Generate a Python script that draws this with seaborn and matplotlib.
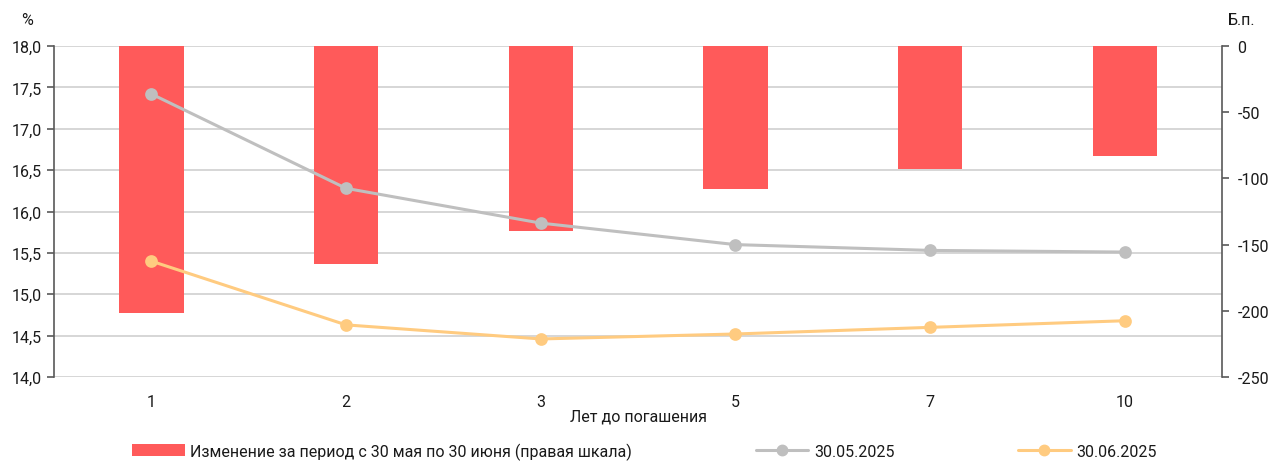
import numpy as np
import pandas as pd
import matplotlib
matplotlib.use("Agg")
import matplotlib.pyplot as plt
from matplotlib.ticker import FuncFormatter, MultipleLocator
from matplotlib.lines import Line2D
from matplotlib.patches import Patch
import seaborn as sns

# Yield curve data (maturity in years)
maturities = ["1", "2", "3", "5", "7", "10"]
yield_may = [17.42, 16.28, 15.86, 15.60, 15.53, 15.51]   # 30.05.2025, %
yield_jun = [15.40, 14.63, 14.46, 14.52, 14.60, 14.68]   # 30.06.2025, %
change_bp = [-202, -165, -140, -108, -93, -83]           # change, b.p.

label_change = "Изменение за период с 30 мая по 30 июня (правая шкала)"
label_may = "30.05.2025"
label_jun = "30.06.2025"

RED = "#FF5A5A"
GRAY = "#BFBFBF"
ORANGE = "#FFCB80"
SPINE = "#595959"
TEXT = "#1A1A1A"
FS = 11.5

sns.set_theme(style="white")
plt.rcParams["font.family"] = ["Liberation Sans Narrow", "Roboto", "DejaVu Sans"]
plt.rcParams["text.color"] = TEXT

fig = plt.figure(figsize=(12.81, 4.64), dpi=100)
ax = fig.add_axes([0.0422, 0.1853, 0.9118, 0.7134])
ax2 = ax.twinx()

df = pd.DataFrame({"m": maturities, "may": yield_may, "jun": yield_jun, "chg": change_bp})

# bars on the right scale
sns.barplot(data=df, x="m", y="chg", order=maturities, color=RED, saturation=1,
            width=0.33, ax=ax2, zorder=2)
for p in ax2.patches:
    p.set_edgecolor("none")

# lines on the left scale
sns.pointplot(data=df, x="m", y="may", order=maturities, color=GRAY,
              markers="o", markersize=7.5, linewidth=2.2, ax=ax)
sns.pointplot(data=df, x="m", y="jun", order=maturities, color=ORANGE,
              markers="o", markersize=7.5, linewidth=2.2, ax=ax)

ax.set_zorder(ax2.get_zorder() + 1)
ax.patch.set_visible(False)

pct_lo, pct_hi, pct_step = 14.0, 18.0, 0.5
bp_lo, bp_hi = -250, 0
ax.set_xlim(-0.5, 5.5)
ax.set_ylim(pct_lo, pct_hi)
ax2.set_ylim(bp_lo, bp_hi)
ax.yaxis.set_major_locator(MultipleLocator(pct_step))
ax2.yaxis.set_major_locator(MultipleLocator(50))
ax.yaxis.set_major_formatter(FuncFormatter(lambda v, _: f"{v:.1f}".replace(".", ",")))
ax2.yaxis.set_major_formatter(FuncFormatter(lambda v, _: f"{int(round(v))}"))

# horizontal grid follows the left (%) ticks, drawn on the lower axes behind the bars
grid_step_bp = (bp_hi - bp_lo) * pct_step / (pct_hi - pct_lo)
ax2.yaxis.set_minor_locator(MultipleLocator(grid_step_bp))
ax2.yaxis.remove_overlapping_locs = False
ax2.grid(False)
ax2.grid(axis="y", which="minor", color="#D0D0D0", linewidth=1.2)
ax2.tick_params(axis="y", which="minor", length=0)
ax2.set_axisbelow(True)
ax.grid(False)

for a in (ax, ax2):
    for s in ("top", "bottom"):
        a.spines[s].set_visible(False)
    a.set_xlabel("")
    a.set_ylabel("")
ax.spines["left"].set_color(SPINE)
ax.spines["left"].set_linewidth(1.2)
ax.spines["right"].set_visible(False)
ax2.spines["left"].set_visible(False)
ax2.spines["right"].set_color(SPINE)
ax2.spines["right"].set_linewidth(1.2)

ax.tick_params(axis="y", which="major", direction="out", length=5, width=1.2,
               color=SPINE, labelsize=FS, labelcolor=TEXT, pad=4, left=True)
ax2.tick_params(axis="y", which="major", direction="out", length=5, width=1.2,
                color=SPINE, labelsize=FS, labelcolor=TEXT, pad=6, right=True)
ax.tick_params(axis="x", length=0, labelsize=FS, labelcolor=TEXT, pad=12)
ax2.tick_params(axis="x", length=0, labelbottom=False)

ax.set_xlabel("Лет до погашения", fontsize=FS, color=TEXT, labelpad=0)
fig.text(0.0215, 0.955, "%", fontsize=FS, ha="center", va="center")
fig.text(0.969, 0.955, "Б.п.", fontsize=FS, ha="center", va="center")

handles = [
    Patch(facecolor=RED, edgecolor="none", label=label_change),
    Line2D([0], [0], color=GRAY, lw=2.2, marker="o", markersize=7.5, label=label_may),
    Line2D([0], [0], color=ORANGE, lw=2.2, marker="o", markersize=7.5, label=label_jun),
]
fig.legend(handles=handles, loc="center", ncol=3, mode="expand",
           bbox_to_anchor=(0.103, 0.006, 0.80, 0.04), frameon=False,
           fontsize=FS, handlelength=3.3, handleheight=0.75, handletextpad=0.35,
           borderaxespad=0.0, borderpad=0.0)

fig.savefig("out.png", dpi=100)
